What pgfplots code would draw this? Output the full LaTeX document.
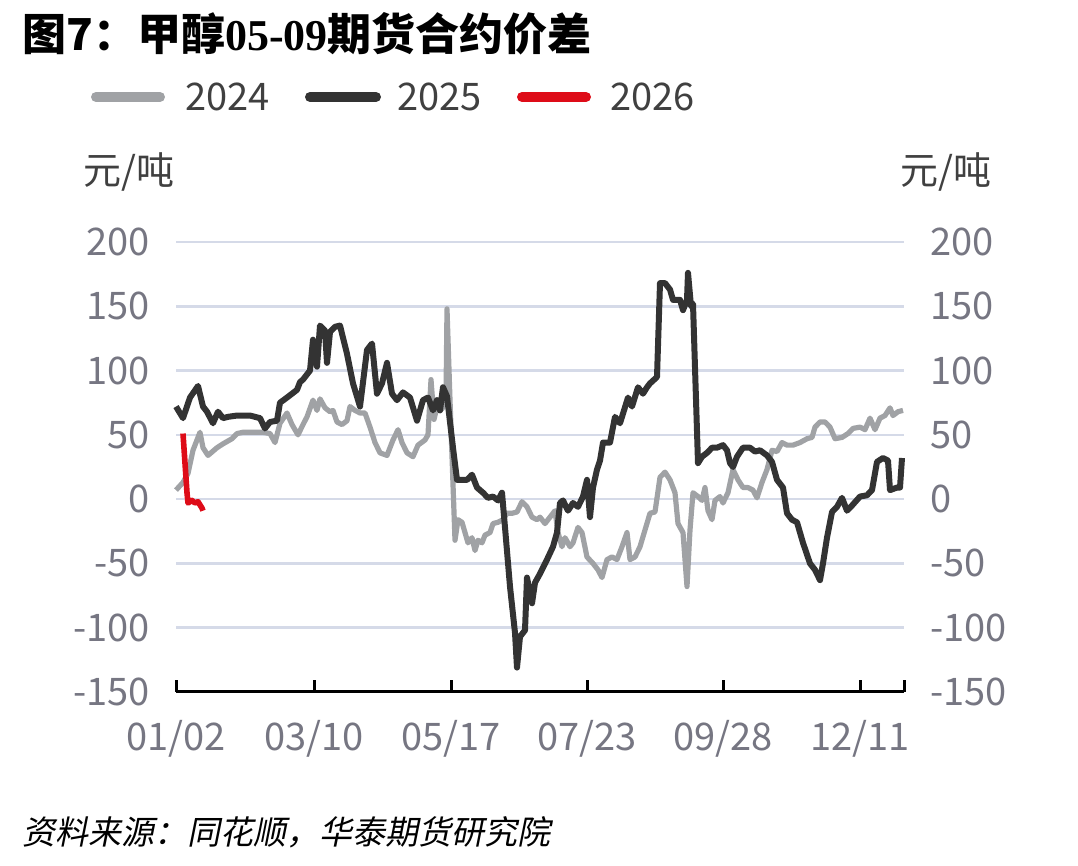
\documentclass[border=0pt]{standalone}
\usepackage{fontspec}
\usepackage{pgfplots}
\pgfplotsset{compat=1.18}
\setmainfont{Noto Sans CJK SC}
\newfontfamily\serifbf{Liberation Serif}
\newfontfamily\slcjk{Noto Sans CJK SC}[FakeSlant=0.2]

\definecolor{c24}{RGB}{160,162,165}
\definecolor{c25}{RGB}{51,51,51}
\definecolor{c26}{RGB}{222,12,24}
\definecolor{gridc}{RGB}{213,218,232}
\definecolor{tickc}{RGB}{118,118,130}
\definecolor{txtc}{RGB}{64,64,64}

\begin{document}
\begin{tikzpicture}
\path[use as bounding box] (0,0) rectangle (539pt,433pt);

% title
\node[anchor=west, inner sep=0pt] at (11pt,416pt)
  {\fontsize{22}{26}\selectfont\bfseries 图7：甲醇{\serifbf\bfseries 05-09}期货合约价差};

% legend
\draw[c24, line width=5pt, line cap=round] (48pt,384.5pt) -- (80pt,384.5pt);
\node[anchor=west, inner sep=0pt, text=txtc] at (92.5pt,384.5pt) {\fontsize{19}{22}\selectfont 2024};
\draw[c25, line width=5pt, line cap=round] (155pt,384.5pt) -- (188pt,384.5pt);
\node[anchor=west, inner sep=0pt, text=txtc] at (198.5pt,384.5pt) {\fontsize{19}{22}\selectfont 2025};
\draw[c26, line width=5pt, line cap=round] (261pt,384.5pt) -- (293pt,384.5pt);
\node[anchor=west, inner sep=0pt, text=txtc] at (305pt,384.5pt) {\fontsize{19}{22}\selectfont 2026};

% units
\node[anchor=west, inner sep=0pt, text=txtc] at (41.5pt,347pt) {\fontsize{19}{22}\selectfont 元/吨};
\node[anchor=west, inner sep=0pt, text=txtc] at (450pt,347pt) {\fontsize{19}{22}\selectfont 元/吨};

% source
\node[anchor=west, inner sep=0pt, text=black] at (11pt,17pt) {\fontsize{16.5}{20}\selectfont\slcjk 资料来源：同花顺，华泰期货研究院};

\begin{axis}[
  at={(88pt,87pt)}, anchor=south west,
  scale only axis, width=364pt, height=225pt,
  xmin=0, xmax=728, ymin=-150, ymax=200,
  axis x line*=bottom, axis y line*=left,
  x axis line style={line width=1.5pt, black},
  y axis line style={draw=none},
  xtick={0,138,275,411,547,684,728},
  xticklabels={01/02,03/10,05/17,07/23,09/28,12/11,{}},
  xtick align=inside,
  x tick style={line width=1.5pt, black},
  major tick length=6pt,
  ytick={-150,-100,-50,0,50,100,150,200},
  yticklabels={{-150},{-100},{-50},{0},{50},{100},{150},{200}},
  y tick style={draw=none},
  ymajorgrids, grid style={gridc, line width=1.3pt},
  tick label style={text=tickc, font=\fontsize{19}{22}\selectfont},
  xticklabel style={anchor=north, inner sep=0pt, yshift=-14pt},
  yticklabel style={anchor=east, inner sep=0pt, xshift=-13pt},
  clip=false,
]
% 2024
\addplot[c24, line width=2.6pt, line join=round] coordinates {
(0,7)(7,13)(12,20)(17,38)(24,52)(27,40)(32,34)(41,40)(47,43)(56,47)(61,51)
(67,52)(77,52)(87,52)(94,51)(99,44)(104,59)(111,67)(116,58)(122,50)(127,58)
(131,64)(137,77)(141,69)(144,78)(149,71)(154,68)(157,69)(161,60)(166,58)
(171,61)(174,72)(179,69)(184,67)(189,67)(194,56)(199,44)(204,36)(211,34)
(217,46)(222,54)(226,44)(231,36)(237,33)(242,42)(249,46)(252,50)(255,93)
(258,62)(262,75)(266,70)(270,78)(271,148)(274,77)(279,-32)(282,-16)(286,-18)
(289,-26)(292,-34)(296,-30)(299,-40)(302,-32)(306,-34)(309,-28)(314,-26)
(317,-19)(322,-18)(327,-16)(331,-11)(336,-11)(341,-10)(346,-2)(351,-6)
(356,-14)(361,-16)(364,-14)(369,-19)(374,-14)(379,-9)(382,-26)(386,-37)
(389,-30)(394,-37)(397,-34)(402,-22)(406,-26)(411,-45)(417,-50)(422,-55)
(426,-61)(431,-47)(436,-45)(441,-47)(446,-37)(451,-26)(454,-47)(459,-45)
(464,-37)(469,-24)(474,-11)(479,-10)(484,17)(489,21)(494,15)(499,5)(502,-19)
(507,-26)(511,-68)(514,-24)(517,5)(522,2)(526,-1)(529,9)(532,-9)(536,-16)
(539,-1)(544,2)(547,-3)(552,5)(557,23)(562,15)(567,9)(572,9)(577,7)(581,1)
(586,13)(591,23)(596,38)(601,37)(606,44)(611,42)(617,42)(624,44)(631,47)
(636,48)(639,56)(644,60)(649,60)(654,56)(659,47)(666,48)(672,51)(677,55)
(684,56)(689,54)(694,63)(699,54)(704,63)(709,65)(714,71)(717,65)(722,68)(727,69)
};
% 2025
\addplot[c25, line width=3pt, line join=round] coordinates {
(0,72)(7,63)(14,79)(22,88)(27,72)(31,68)(37,59)(42,68)(47,63)(52,64)(61,65)
(74,65)(84,63)(89,55)(94,60)(101,61)(104,75)(111,79)(121,85)(124,91)(127,93)
(134,100)(137,124)(141,103)(144,135)(149,131)(151,106)(154,130)(159,134)
(164,135)(171,113)(177,90)(184,72)(191,116)(196,121)(201,82)(206,90)(211,106)
(216,82)(221,77)(227,83)(234,79)(241,61)(247,77)(252,79)(257,69)(261,77)
(264,69)(267,87)(271,80)(277,40)(281,15)(291,15)(296,19)(301,9)(307,5)(312,1)
(317,2)(322,-1)(326,5)(329,-22)(334,-68)(339,-104)(341,-131)(344,-107)
(349,-102)(351,-61)(356,-81)(359,-65)(364,-58)(371,-47)(377,-37)(381,-26)
(384,-3)(387,-1)(392,-9)(397,-3)(402,-6)(407,2)(411,15)(414,-14)(417,9)
(421,23)(424,30)(427,44)(434,44)(439,64)(444,59)(452,79)(456,72)(462,87)
(467,82)(471,87)(474,90)(481,95)(484,168)(489,168)(494,163)(497,155)(504,155)
(507,147)(511,155)(512,176)(515,150)(517,152)(522,28)(526,33)(531,36)(536,40)
(541,40)(547,42)(551,38)(554,28)(557,25)(561,33)(567,40)(574,40)(579,37)
(584,38)(591,34)(596,29)(601,15)(607,9)(611,-11)(616,-16)(621,-18)(627,-34)
(634,-50)(639,-55)(644,-63)(647,-50)(651,-30)(656,-10)(661,-6)(666,1)(671,-9)
(676,-5)(684,2)(691,3)(696,7)(701,29)(707,32)(712,30)(714,7)(721,9)(724,9)(726,32)
};
% 2026
\addplot[c26, line width=2.8pt, line join=round] coordinates {
(7,51)(9,28)(11,5)(12,-3)(16,-1)(19,-3)(22,-2)(26,-7)(27,-9)
};
\end{axis}

\begin{axis}[
  at={(88pt,87pt)}, anchor=south west,
  scale only axis, width=364pt, height=225pt,
  xmin=0, xmax=728, ymin=-150, ymax=200,
  axis x line=none, axis y line*=right,
  y axis line style={draw=none},
  ytick={-150,-100,-50,0,50,100,150,200},
  yticklabels={{-150},{-100},{-50},{0},{50},{100},{150},{200}},
  y tick style={draw=none},
  tick label style={text=tickc, font=\fontsize{19}{22}\selectfont},
  yticklabel style={anchor=west, inner sep=0pt, xshift=13pt},
]
\end{axis}
\end{tikzpicture}
\end{document}
